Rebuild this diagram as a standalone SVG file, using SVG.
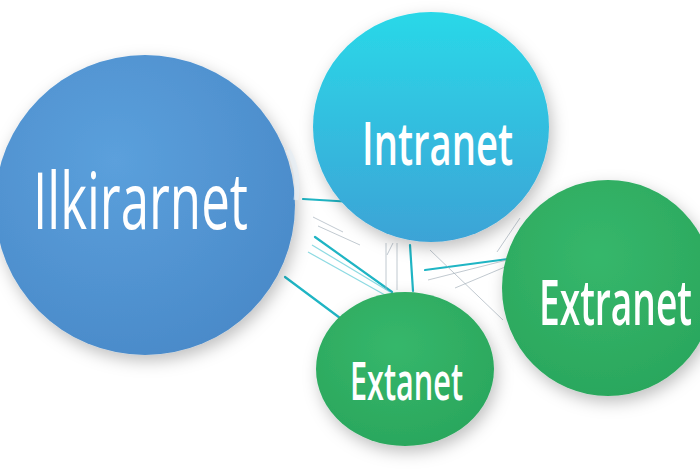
<svg xmlns="http://www.w3.org/2000/svg" width="700" height="470" viewBox="0 0 700 470">
<defs>
<filter id="sh" x="-30%" y="-30%" width="160%" height="160%">
<feDropShadow dx="3" dy="6" stdDeviation="8" flood-color="#000" flood-opacity="0.25"/>
</filter>
<radialGradient id="gBlue" cx="40%" cy="35%" r="70%">
<stop offset="0" stop-color="#5ba0dc"/>
<stop offset="1" stop-color="#4a8ac9"/>
</radialGradient>
<linearGradient id="gIntra" x1="0" y1="0" x2="0" y2="1">
<stop offset="0" stop-color="#2ad8e8"/>
<stop offset="1" stop-color="#3ca3d6"/>
</linearGradient>
<radialGradient id="gGreen" cx="45%" cy="35%" r="70%">
<stop offset="0" stop-color="#36b76b"/>
<stop offset="1" stop-color="#2aa65c"/>
</radialGradient>
</defs>
<style>
.lbl{font-family:"Open Sans","Liberation Sans",sans-serif;font-weight:600;fill:#ffffff;}
.thin{font-weight:500;}
.teal{stroke:#1fb5c4;stroke-width:2.2;fill:none;stroke-linecap:round}
.tealf{stroke:#5ccad6;stroke-width:1.2;fill:none;opacity:0.7}
.gray{stroke:#a9b4bd;stroke-width:0.9;fill:none;opacity:0.8}
</style>
<rect width="700" height="470" fill="#ffffff"/>
<g id="connectors">
<line class="teal" x1="303" y1="199" x2="353" y2="202"/>
<line class="teal" x1="285" y1="277" x2="340" y2="318"/>
<line class="teal" x1="315" y1="237" x2="392" y2="292"/>
<line class="tealf" x1="312" y1="245" x2="390" y2="292"/>
<line class="tealf" x1="308" y1="252" x2="385" y2="295"/>
<line class="gray" x1="313" y1="217" x2="343" y2="232"/>
<line class="gray" x1="318" y1="226" x2="360" y2="245"/>
<line class="gray" x1="386" y1="243" x2="386" y2="290"/>
<line class="gray" x1="397" y1="243" x2="397" y2="290"/>
<line class="gray" x1="387" y1="255" x2="393" y2="243"/>
<line class="teal" x1="410" y1="245" x2="413" y2="291"/>
<line class="teal" x1="425" y1="270" x2="508" y2="259" stroke-width="1.6"/>
<line class="gray" x1="428" y1="280" x2="507" y2="260"/>
<line class="gray" x1="455" y1="288" x2="505" y2="267"/>
<line class="gray" x1="430" y1="250" x2="503" y2="320"/>
<line class="gray" x1="497" y1="252" x2="520" y2="218"/>
</g>
<g id="node-internet">
<circle cx="145" cy="205" r="150" fill="url(#gBlue)" filter="url(#sh)"/>
<path d="M288 150 Q300 170 296 200" stroke="#e6eef5" stroke-width="5" fill="none" opacity="0.7"/>
<text class="lbl thin" x="33" y="229" font-size="78" textLength="215" lengthAdjust="spacingAndGlyphs">Ilkirarnet</text>
</g>
<g id="node-intranet">
<ellipse cx="431" cy="127" rx="118" ry="115" fill="url(#gIntra)" filter="url(#sh)"/>
<text class="lbl" x="362" y="165" font-size="59" textLength="151" lengthAdjust="spacingAndGlyphs">Intranet</text>
</g>
<g id="node-extranet">
<ellipse cx="608" cy="288" rx="106" ry="108" fill="url(#gGreen)" filter="url(#sh)"/>
<text class="lbl" transform="translate(539,325) scale(0.58,1)" x="0" y="0" font-size="64">Extranet</text>
</g>
<g id="node-extanet">
<ellipse cx="405" cy="369" rx="89" ry="77" fill="url(#gGreen)" filter="url(#sh)"/>
<text class="lbl" x="350" y="400" font-size="52" textLength="113" lengthAdjust="spacingAndGlyphs">Extanet</text>
</g>
</svg>
